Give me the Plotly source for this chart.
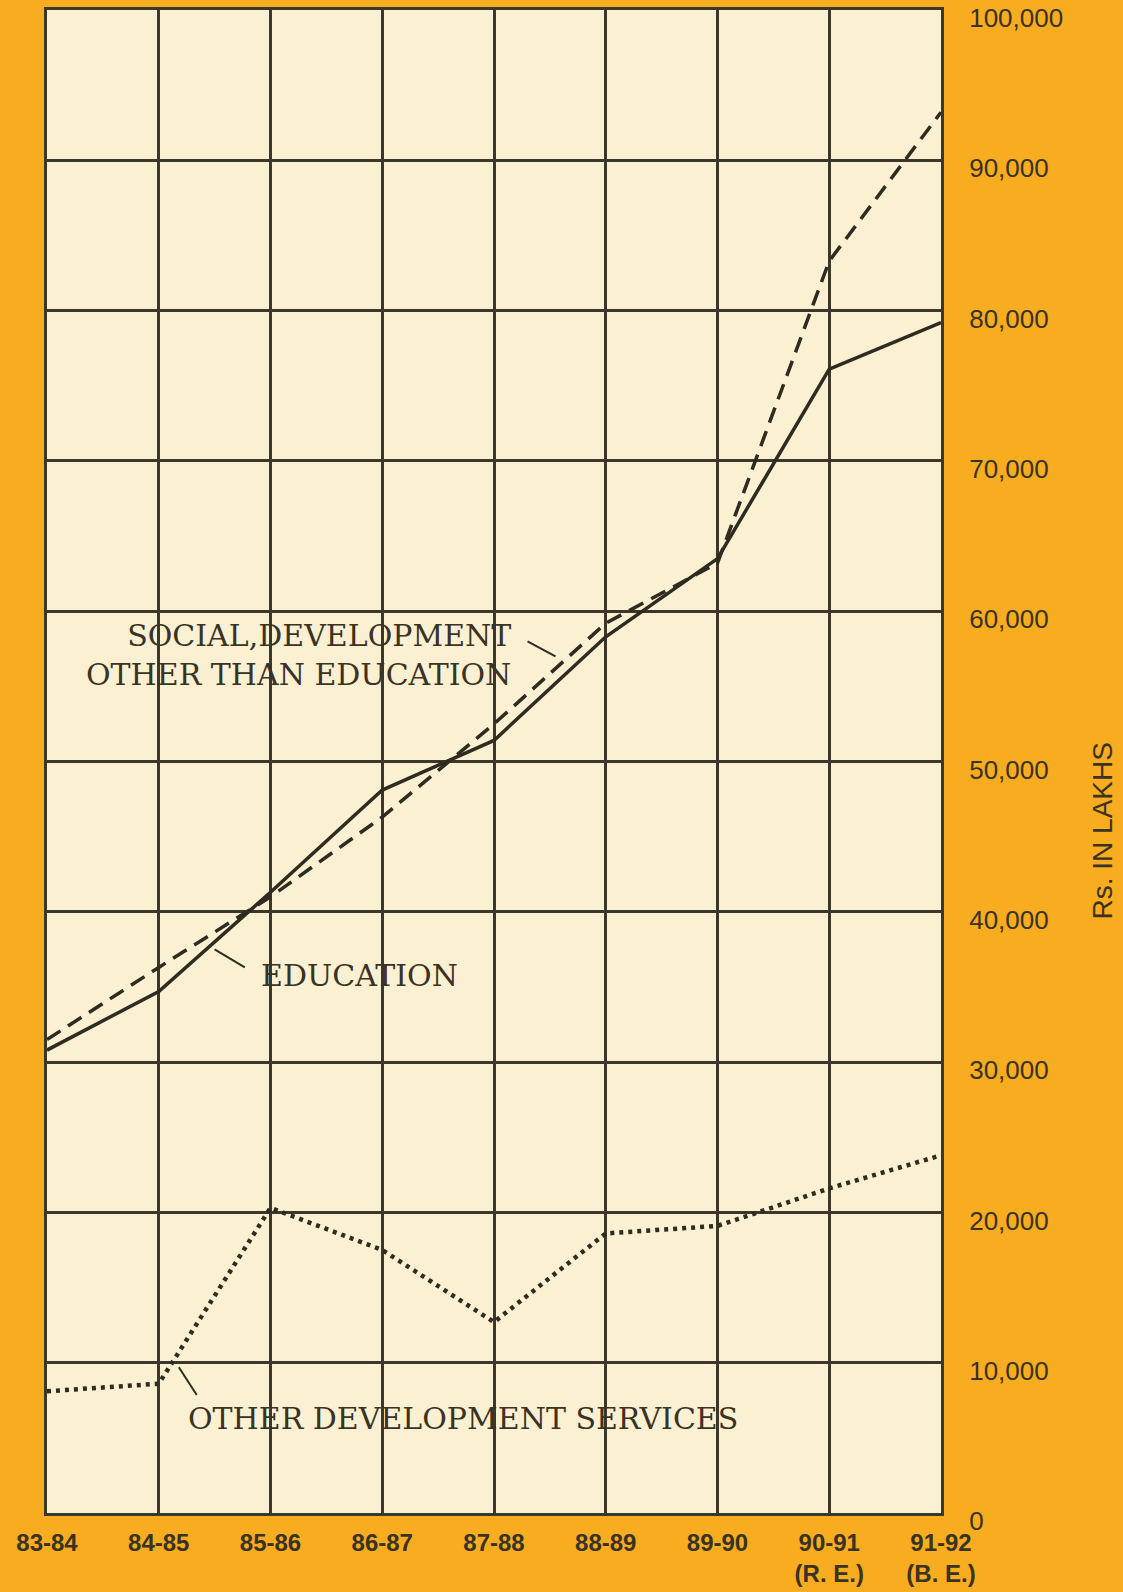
import plotly.graph_objects as go

# ---- data ----
years = ["83-84", "84-85", "85-86", "86-87", "87-88", "88-89", "89-90", "90-91", "91-92"]
tick_labels = ["83-84", "84-85", "85-86", "86-87", "87-88", "88-89", "89-90",
               "90-91<br>(R. E.)", "91-92<br>(B. E.)"]
education = [30800, 34700, 41300, 48100, 51400, 58300, 63500, 76100, 79200]
social_other = [31500, 36300, 41000, 46300, 52500, 59200, 63200, 83300, 93200]
other_dev = [8100, 8600, 20300, 17500, 12700, 18600, 19100, 21600, 23800]
y_ticks = [0, 10000, 20000, 30000, 40000, 50000, 60000, 70000, 80000, 90000, 100000]
y_tick_text = ["0", "10,000", "20,000", "30,000", "40,000", "50,000", "60,000",
               "70,000", "80,000", "90,000", "100,000"]

INK = "#2E2B20"
TXT = "#3A3222"
ORANGE = "#F8AC1F"
CREAM = "#FCF0D3"
GRID = "#3B382B"

fig = go.Figure()
fig.add_trace(go.Scatter(x=years, y=education, mode="lines",
                         line=dict(color=INK, width=3.5), name="Education"))
fig.add_trace(go.Scatter(x=years, y=social_other, mode="lines",
                         line=dict(color=INK, width=3.5, dash="16px,9px"),
                         name="Social development other than education"))
fig.add_trace(go.Scatter(x=years, y=other_dev, mode="lines",
                         line=dict(color=INK, width=4.5, dash="4px,5px"),
                         name="Other development services"))

serif = dict(family="DejaVu Serif, Liberation Serif, serif", size=30, color=TXT)

annotations = [
    dict(x=4.17, y=57100, xref="x", yref="y",
         text="SOCIAL,DEVELOPMENT<br>OTHER THAN EDUCATION",
         showarrow=False, xanchor="right", yanchor="middle", align="right", font=serif),
    dict(x=1.90, y=35750, xref="x", yref="y", text="EDUCATION",
         showarrow=False, xanchor="left", yanchor="middle", font=serif),
    dict(x=1.24, y=6320, xref="x", yref="y", text="OTHER DEVELOPMENT SERVICES",
         showarrow=False, xanchor="left", yanchor="middle", font=serif),
    dict(x=1.181, y=0.454, xref="paper", yref="paper", text="Rs. IN LAKHS",
         showarrow=False, textangle=-90, xanchor="center", yanchor="middle",
         font=dict(family="Liberation Sans, Arial, sans-serif", size=28, color=TXT)),
]

shapes = [
    dict(type="line", xref="x", yref="y", x0=4.30, y0=58000, x1=4.55, y1=57000,
         line=dict(color=INK, width=2)),
    dict(type="line", xref="x", yref="y", x0=1.50, y0=37500, x1=1.77, y1=36300,
         line=dict(color=INK, width=2)),
    dict(type="line", xref="x", yref="y", x0=1.18, y0=9700, x1=1.34, y1=7850,
         line=dict(color=INK, width=2)),
]

fig.update_layout(
    width=1123, height=1592,
    margin=dict(l=47, r=182, t=10, b=79, autoexpand=False),
    paper_bgcolor=ORANGE,
    plot_bgcolor=CREAM,
    showlegend=False,
    annotations=annotations,
    shapes=shapes,
)

fig.update_xaxes(
    type="category", range=[0, 8], automargin=False,
    tickvals=years, ticktext=tick_labels,
    showgrid=True, gridcolor=GRID, gridwidth=2.5,
    showline=True, linecolor=GRID, linewidth=3, mirror=True,
    ticks="outside", ticklen=6, tickcolor="rgba(0,0,0,0)",
    tickfont=dict(family="Liberation Sans, Arial, sans-serif", size=24, color=TXT,
                  weight="bold"),
    zeroline=False,
)
fig.update_yaxes(
    range=[0, 100000], side="right", automargin=False,
    tickvals=y_ticks, ticktext=y_tick_text,
    showgrid=True, gridcolor=GRID, gridwidth=2.5,
    showline=True, linecolor=GRID, linewidth=3, mirror=True,
    ticks="outside", ticklen=20, tickcolor="rgba(0,0,0,0)",
    ticklabeloverflow="allow", ticklabelshift=8,
    tickfont=dict(family="Liberation Sans, Arial, sans-serif", size=26, color=TXT),
    zeroline=False,
)

fig.write_html(
    "out.html",
    config={"displayModeBar": False},
    post_script="document.body.style.margin='0';document.body.style.background='%s';" % ORANGE,
)
